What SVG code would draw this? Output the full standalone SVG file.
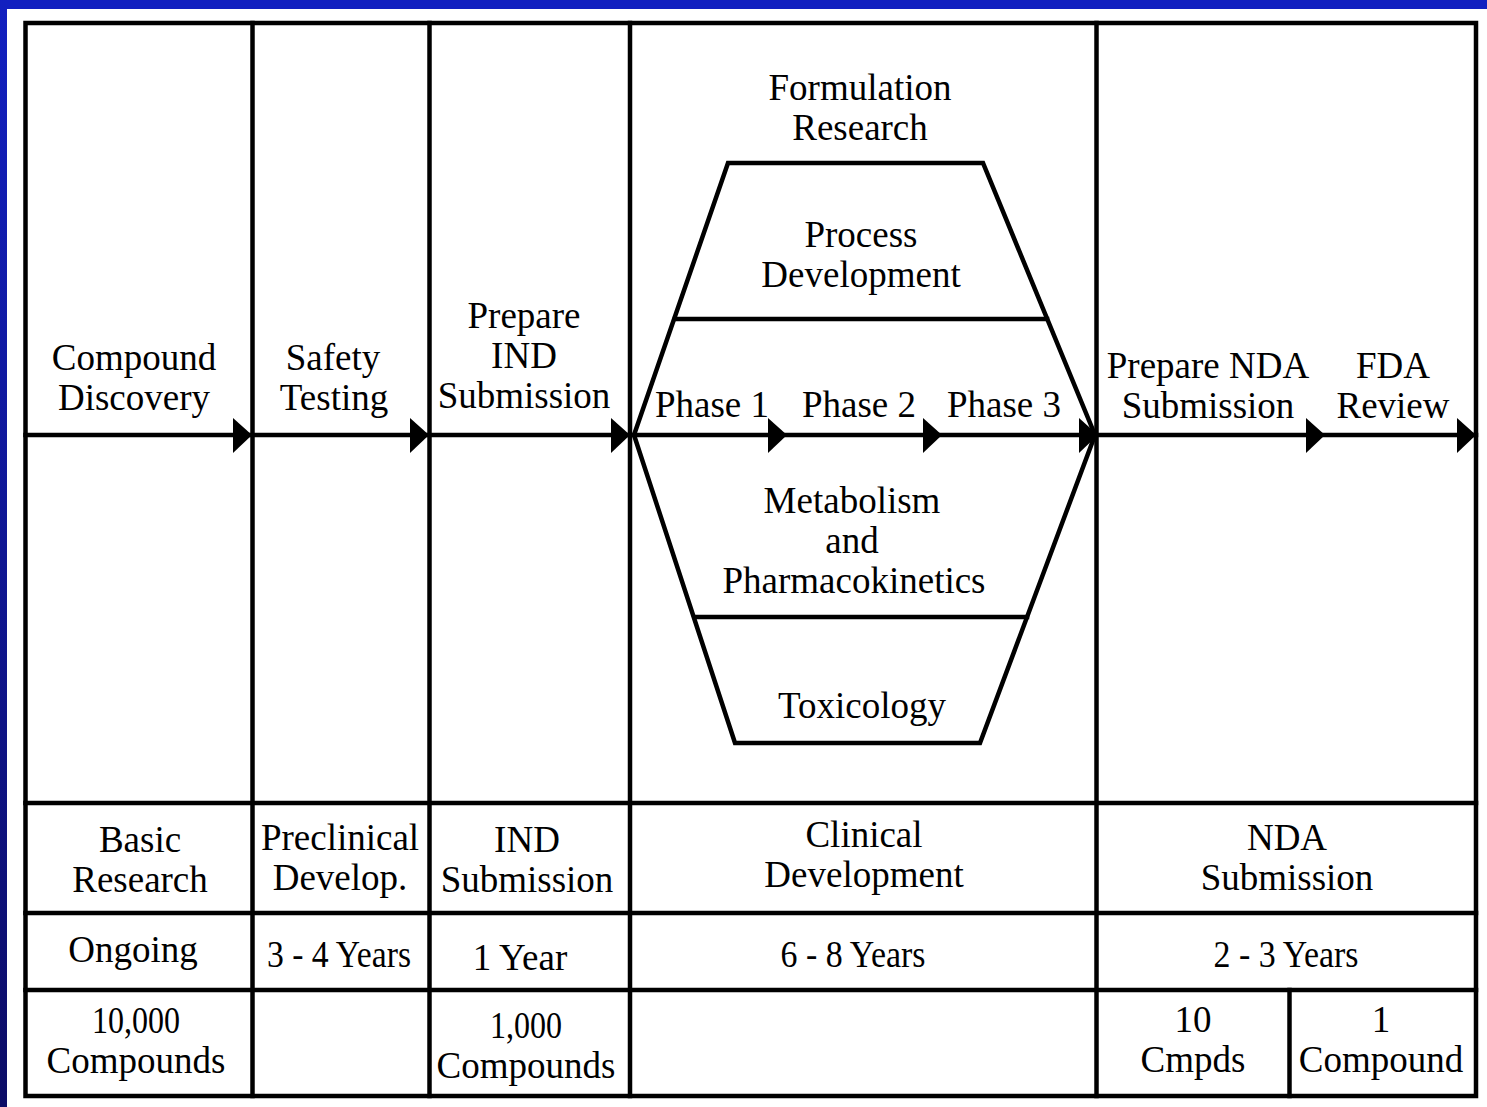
<svg xmlns="http://www.w3.org/2000/svg" width="1487" height="1107" viewBox="0 0 1487 1107">
<defs>
<linearGradient id="edge" x1="0" y1="0" x2="0" y2="1">
<stop offset="0" stop-color="#1220c0"/>
<stop offset="1" stop-color="#0c0c66"/>
</linearGradient>
<style>
.ln{stroke:#000;stroke-width:4.5;fill:none;stroke-linecap:square}
.hx{stroke:#000;stroke-width:4.5;fill:none;stroke-linejoin:miter}
.ah{fill:#000}
text{font-family:"Liberation Serif","Times New Roman",serif;font-size:37px;fill:#000;text-anchor:middle}
</style>
</defs>
<rect x="0" y="0" width="1487" height="1107" fill="#fff"/>
<rect x="0" y="0" width="1487" height="9" fill="#1220c0"/>
<rect x="0" y="0" width="7" height="1107" fill="url(#edge)"/>

<g id="table">
<rect class="ln" x="25.5" y="23" width="1450.5" height="1073"/>
<line class="ln" x1="252.5" y1="23" x2="252.5" y2="1096"/>
<line class="ln" x1="429.5" y1="23" x2="429.5" y2="1096"/>
<line class="ln" x1="630" y1="23" x2="630" y2="1096"/>
<line class="ln" x1="1096.5" y1="23" x2="1096.5" y2="1096"/>
<line class="ln" x1="25.5" y1="803" x2="1476" y2="803"/>
<line class="ln" x1="25.5" y1="913" x2="1476" y2="913"/>
<line class="ln" x1="25.5" y1="990" x2="1476" y2="990"/>
<line class="ln" x1="1289.5" y1="990" x2="1289.5" y2="1096"/>
</g>

<g id="hexagon">
<polygon class="hx" points="634,435 728,163 983,163 1095,435 980,743 735,743"/>
<line class="ln" x1="675" y1="319" x2="1047" y2="319"/>
<line class="ln" x1="695" y1="617" x2="1027" y2="617"/>
</g>

<g id="connectors">
<line class="ln" x1="25.5" y1="435" x2="1476" y2="435"/>
<polygon class="ah" points="233,418 252,435 233,453"/>
<polygon class="ah" points="410,418 429,435 410,453"/>
<polygon class="ah" points="611,418 630,435 611,453"/>
<polygon class="ah" points="768,418 787,435 768,453"/>
<polygon class="ah" points="923,418 942,435 923,453"/>
<polygon class="ah" points="1079,418 1098,435 1079,453"/>
<polygon class="ah" points="1306,418 1325,435 1306,453"/>
<polygon class="ah" points="1457,418 1476,435 1457,453"/>
</g>

<g id="compound-discovery"><text x="134" y="370">Compound</text><text x="134" y="410">Discovery</text></g>
<g id="safety-testing"><text x="333" y="370">Safety</text><text x="334" y="410">Testing</text></g>
<g id="prepare-ind"><text x="524" y="328">Prepare</text><text x="524" y="368">IND</text><text x="524" y="408">Submission</text></g>
<g id="formulation"><text x="860" y="100">Formulation</text><text x="860" y="140">Research</text></g>
<g id="process"><text x="861" y="247">Process</text><text x="861" y="287">Development</text></g>
<g id="phase1"><text x="712" y="417">Phase 1</text></g>
<g id="phase2"><text x="859" y="417">Phase 2</text></g>
<g id="phase3"><text x="1004" y="417">Phase 3</text></g>
<g id="metabolism"><text x="852" y="513">Metabolism</text><text x="852" y="553">and</text><text x="854" y="593">Pharmacokinetics</text></g>
<g id="toxicology"><text x="862" y="718">Toxicology</text></g>
<g id="prepare-nda"><text x="1208" y="378">Prepare NDA</text><text x="1208" y="418">Submission</text></g>
<g id="fda-review"><text x="1393" y="378">FDA</text><text x="1393" y="418">Review</text></g>

<g id="basic-research"><text x="140" y="852">Basic</text><text x="140" y="892">Research</text></g>
<g id="preclinical"><text x="340" y="850">Preclinical</text><text x="340" y="890">Develop.</text></g>
<g id="ind-submission"><text x="527" y="852">IND</text><text x="527" y="892">Submission</text></g>
<g id="clinical"><text x="864" y="847">Clinical</text><text x="864" y="887">Development</text></g>
<g id="nda-submission"><text x="1287" y="850">NDA</text><text x="1287" y="890">Submission</text></g>

<g id="ongoing"><text x="133" y="962">Ongoing</text></g>
<g id="years-34"><text x="339" y="967" textLength="144" lengthAdjust="spacingAndGlyphs">3 - 4 Years</text></g>
<g id="year-1"><text x="520" y="970">1 Year</text></g>
<g id="years-68"><text x="853" y="967" textLength="145" lengthAdjust="spacingAndGlyphs">6 - 8 Years</text></g>
<g id="years-23"><text x="1286" y="967" textLength="145" lengthAdjust="spacingAndGlyphs">2 - 3 Years</text></g>

<g id="c10000"><text x="136" y="1033" textLength="88" lengthAdjust="spacingAndGlyphs">10,000</text><text x="136" y="1073">Compounds</text></g>
<g id="c1000"><text x="526" y="1038" textLength="72" lengthAdjust="spacingAndGlyphs">1,000</text><text x="526" y="1078">Compounds</text></g>
<g id="c10"><text x="1193" y="1032">10</text><text x="1193" y="1072">Cmpds</text></g>
<g id="c1"><text x="1381" y="1032">1</text><text x="1381" y="1072">Compound</text></g>
</svg>
